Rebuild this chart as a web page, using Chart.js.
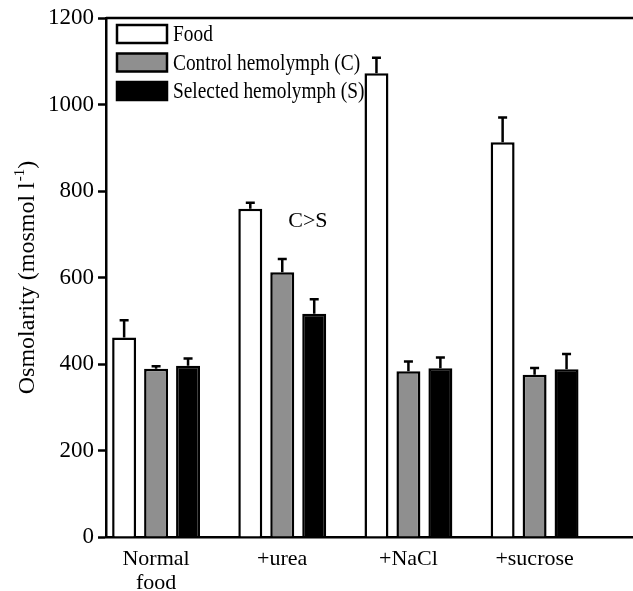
<!DOCTYPE html>
<html>
<head>
<meta charset="utf-8">
<script src="https://cdn.jsdelivr.net/npm/chart.js@4/dist/chart.umd.min.js"></script>
<style>
  body { margin: 0; background: #fff; }
  #wrap { width: 633px; height: 591px; }
</style>
</head>
<body>
<div id="wrap"><canvas id="osmChart"></canvas></div>
<script>
// Data
const categories = [["Normal", "food"], "+urea", "+NaCl", "+sucrose"];
const foodValues = [461, 759, 1072, 913];
const foodErrors = [40, 14, 36, 57];
const controlValues = [389, 612, 383, 375];
const controlErrors = [6, 31, 23, 16];
const selectedValues = [396, 516, 390, 388];
const selectedErrors = [17, 34, 25, 35];
const yTicks = [0, 200, 400, 600, 800, 1000, 1200];

const serif = "'Liberation Serif', 'DejaVu Serif', serif";
const lw = 2.5;

function toPoints(values) {
    return values.map((v, i) => ({ x: i, y: v }));
}

// error bars (only upward) + frame, legend, title, note
const extras = {
    id: "extras",
    afterDatasetsDraw(chart) {
        const ctx = chart.ctx;
        const y = chart.scales.y;
        const area = chart.chartArea;
        const errs = [foodErrors, controlErrors, selectedErrors];

        ctx.save();
        ctx.strokeStyle = "#000";
        ctx.lineWidth = lw;
        chart.data.datasets.forEach((ds, d) => {
            const meta = chart.getDatasetMeta(d);
            meta.data.forEach((bar, i) => {
                const top = y.getPixelForValue(ds.data[i].y + errs[d][i]);
                ctx.beginPath();
                ctx.moveTo(bar.x, bar.y);
                ctx.lineTo(bar.x, top);
                ctx.moveTo(bar.x - 4.5, top);
                ctx.lineTo(bar.x + 4.5, top);
                ctx.stroke();
            });
        });

        // top frame line
        ctx.beginPath();
        ctx.moveTo(area.left, area.top);
        ctx.lineTo(area.right, area.top);
        ctx.stroke();

        // legend
        const rows = [
            { label: "Food", fill: "#ffffff" },
            { label: "Control hemolymph (C)", fill: "#8f8f8f" },
            { label: "Selected hemolymph (S)", fill: "#000000" }
        ];
        ctx.textBaseline = "middle";
        rows.forEach((r, k) => {
            const cy = 34 + k * 28.5;
            ctx.fillStyle = r.fill;
            ctx.fillRect(117, cy - 9, 50, 18);
            ctx.strokeRect(117, cy - 9, 50, 18);
            ctx.fillStyle = "#000";
            // glyphs in the original are a bit narrow and tall
            ctx.save();
            ctx.translate(173, cy + 1);
            ctx.scale(0.88, 1.05);
            ctx.font = "22px " + serif;
            ctx.fillText(r.label, 0, 0);
            ctx.restore();
        });

        // note above the urea group
        const ureaFood = chart.getDatasetMeta(0).data[1];
        ctx.font = "22px " + serif;
        ctx.fillText("C>S", ureaFood.x + 38, y.getPixelForValue(730));

        // y-axis title with superscript
        ctx.translate(28, 278);
        ctx.rotate(-Math.PI / 2);
        const main = "Osmolarity (mosmol l";
        ctx.font = "24px " + serif;
        const w1 = ctx.measureText(main).width;
        ctx.font = "15px " + serif;
        const w2 = ctx.measureText("-1").width;
        ctx.font = "24px " + serif;
        const w3 = ctx.measureText(")").width;
        let x0 = -(w1 + w2 + w3) / 2;
        ctx.textAlign = "left";
        ctx.fillText(main, x0, 0);
        ctx.font = "15px " + serif;
        ctx.fillText("-1", x0 + w1 + 1, -8);
        ctx.font = "24px " + serif;
        ctx.fillText(")", x0 + w1 + w2 + 1, 0);
        ctx.restore();
    }
};

const ctx = document.getElementById("osmChart");
new Chart(ctx, {
    type: "bar",
    data: {
        datasets: [
            { label: "Food", data: toPoints(foodValues), backgroundColor: "#ffffff" },
            { label: "Control hemolymph (C)", data: toPoints(controlValues), backgroundColor: "#8f8f8f" },
            { label: "Selected hemolymph (S)", data: toPoints(selectedValues), backgroundColor: "#000000" }
        ]
    },
    options: {
        responsive: true,
        maintainAspectRatio: false,
        animation: false,
        layout: { padding: { top: 18, right: 0, left: 0, bottom: 0 } },
        datasets: {
            bar: {
                borderColor: "#000",
                borderWidth: lw,
                categoryPercentage: 0.76,
                barPercentage: 0.75
            }
        },
        plugins: {
            legend: { display: false },
            tooltip: { enabled: false }
        },
        scales: {
            x: {
                type: "linear",
                offset: false,
                min: -0.397,
                max: 3.78,
                afterBuildTicks: (scale) => {
                    scale.ticks = categories.map((c, i) => ({ value: i }));
                },
                afterFit: (scale) => { scale.height = 54; },
                ticks: {
                    autoSkip: false,
                    maxRotation: 0,
                    padding: 2,
                    color: "#000",
                    font: { family: serif, size: 22, lineHeight: 1.1 },
                    callback: (v) => categories[v]
                },
                grid: { display: false },
                border: { display: true, color: "#000", width: lw }
            },
            y: {
                min: 0,
                max: 1200,
                afterBuildTicks: (scale) => {
                    scale.ticks = yTicks.map(v => ({ value: v }));
                },
                afterFit: (scale) => { scale.width = 106; },
                ticks: {
                    padding: 4,
                    color: "#000",
                    font: { family: serif, size: 23 },
                    callback: (v) => String(v)
                },
                grid: {
                    drawOnChartArea: false,
                    tickLength: 8,
                    tickWidth: lw,
                    tickColor: "#000"
                },
                border: { display: true, color: "#000", width: lw }
            }
        }
    },
    plugins: [extras]
});
</script>
</body>
</html>
